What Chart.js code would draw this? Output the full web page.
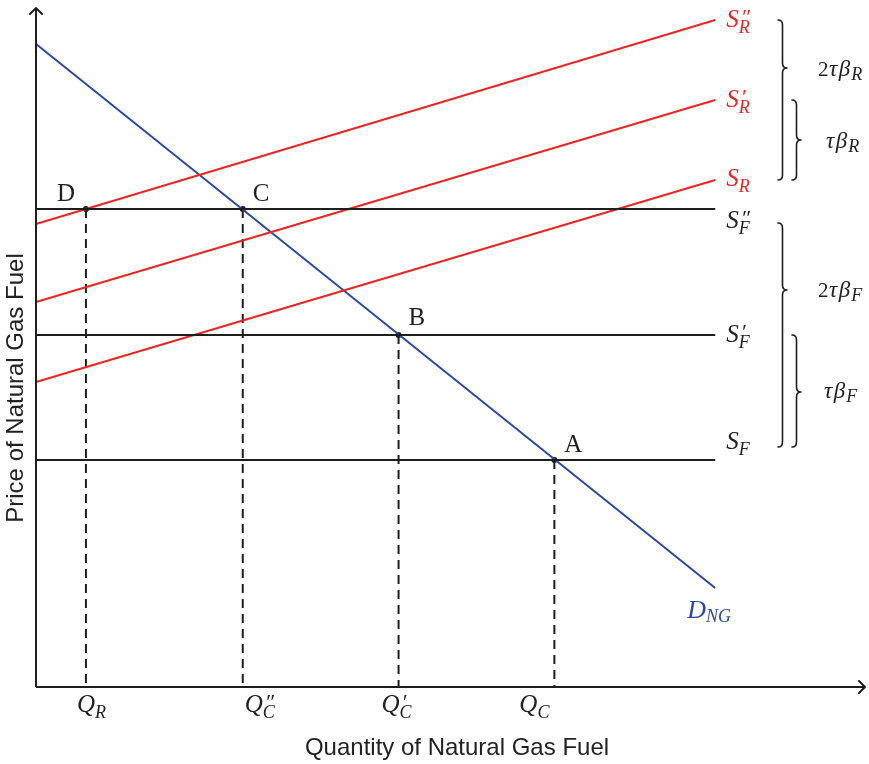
<!DOCTYPE html>
<html>
<head>
<meta charset="utf-8">
<script src="https://cdn.jsdelivr.net/npm/chart.js@4.4.1/dist/chart.umd.min.js"></script>
<style>
  html, body { margin: 0; padding: 0; background: #ffffff; }
  canvas { display: block; }
</style>
</head>
<body>
<canvas id="c" width="869" height="764"></canvas>
<script>
// ---- Data (units: arbitrary quantity / price) ----
const xMax = 83;          // quantity axis extent
const yMax = 67.9;        // price axis extent
const qEnd = 68;          // where the curves end
const curveQ = [0, qEnd];
const demandPrice = [64.3, 9.9];      // D_NG
const supplyR  = [30.5, 50.7];        // S_R
const supplyR1 = [38.5, 58.7];        // S'_R
const supplyR2 = [46.3, 66.7];        // S''_R
const fuelPrices = [22.7, 35.2, 47.8];   // S_F, S'_F, S''_F
const eqNames = ['D', 'C', 'B', 'A'];
const eqQ = [5.0, 20.7, 36.3, 51.9];
const eqP = [47.8, 47.8, 35.2, 22.7];
const qTickLabels = [['Q', '', 'R'], ['Q', '″', 'C'], ['Q', '′', 'C'], ['Q', '', 'C']];
const xTitle = 'Quantity of Natural Gas Fuel';
const yTitle = 'Price of Natural Gas Fuel';

const RED = 'rgb(236,36,36)';
const BLUE = 'rgb(44,72,166)';
const BLACK = '#1e1e1e';
const TEXT = '#222222';

function seg(q, p) { return q.map((v, i) => ({ x: v, y: p[i] })); }
function lineDS(data, color, extra) {
  return Object.assign({ type: 'line', data, borderColor: color, borderWidth: 2, pointRadius: 0,
    fill: false, tension: 0, showLine: true, clip: false }, extra || {});
}

const datasets = [];
// axes
datasets.push(lineDS([{ x: 0, y: 0 }, { x: 0, y: yMax }], BLACK));
datasets.push(lineDS([{ x: 0, y: 0 }, { x: xMax, y: 0 }], BLACK));
// fuel supply (horizontal)
fuelPrices.forEach(p => datasets.push(lineDS(seg(curveQ, [p, p]), BLACK)));
// renewable supply
[supplyR, supplyR1, supplyR2].forEach(s => datasets.push(lineDS(seg(curveQ, s), RED)));
// demand
datasets.push(lineDS(seg(curveQ, demandPrice), BLUE));
// dashed drop lines
eqQ.forEach((q, i) => datasets.push(lineDS([{ x: q, y: eqP[i] }, { x: q, y: 0 }], BLACK, { borderDash: [9, 6] })));
// equilibrium points
datasets.push({ type: 'scatter', data: eqQ.map((q, i) => ({ x: q, y: eqP[i] })), pointRadius: 3,
  pointBackgroundColor: BLACK, pointBorderWidth: 0, clip: false });

function drawParts(ctx, x, y, parts, color) {
  let cx = x;
  ctx.fillStyle = color;
  ctx.textBaseline = 'alphabetic';
  ctx.textAlign = 'left';
  for (const p of parts) {
    ctx.font = (p.it ? 'italic ' : '') + p.s + 'px "Liberation Serif"';
    ctx.fillText(p.t, cx + (p.dx || 0), y + (p.dy || 0));
    if (!p.na) cx += ctx.measureText(p.t).width + (p.k || 0);
  }
}
function sym(base, prime, sub, size, subSize) {
  const parts = [{ t: base, s: size, it: true, k: 0 }];
  if (prime) parts.push({ t: prime, s: size - 3, it: true, na: true, dx: 2, dy: -3 });
  parts.push({ t: sub, s: subSize, it: true, dy: 6 });
  return parts;
}
function brace(ctx, x0, y1, y2, tip, w) {
  const sx = x0 + w / 2, r = 5;
  ctx.beginPath();
  ctx.moveTo(x0, y1);
  ctx.quadraticCurveTo(sx, y1, sx, y1 + r);
  ctx.lineTo(sx, tip - r);
  ctx.quadraticCurveTo(sx, tip, x0 + w, tip);
  ctx.quadraticCurveTo(sx, tip, sx, tip + r);
  ctx.lineTo(sx, y2 - r);
  ctx.quadraticCurveTo(sx, y2, x0, y2);
  ctx.stroke();
}

const annot = {
  id: 'annot',
  afterDatasetsDraw(chart) {
    const ctx = chart.ctx, xs = chart.scales.x, ys = chart.scales.y;
    const X = v => xs.getPixelForValue(v), Y = v => ys.getPixelForValue(v);
    ctx.save();
    // arrowheads
    ctx.strokeStyle = BLACK; ctx.lineWidth = 2; ctx.lineJoin = 'round'; ctx.lineCap = 'round';
    let tx = X(0), ty = Y(yMax);
    ctx.beginPath(); ctx.moveTo(tx - 6, ty + 6); ctx.quadraticCurveTo(tx - 2, ty + 2, tx, ty);
    ctx.quadraticCurveTo(tx + 2, ty + 2, tx + 6, ty + 6); ctx.stroke();
    tx = X(xMax); ty = Y(0);
    ctx.beginPath(); ctx.moveTo(tx - 6, ty - 6); ctx.quadraticCurveTo(tx - 2, ty - 2, tx, ty);
    ctx.quadraticCurveTo(tx - 2, ty + 2, tx - 6, ty + 6); ctx.stroke();

    // point letters
    const letterOff = [[-29, -8], [10, -8], [10, -10], [10, -8]];
    eqNames.forEach((n, i) => {
      ctx.fillStyle = TEXT; ctx.font = '25px "Liberation Serif"'; ctx.textAlign = 'left';
      ctx.fillText(n, X(eqQ[i]) + letterOff[i][0], Y(eqP[i]) + letterOff[i][1]);
    });

    // quantity labels
    const qOff = [-9, 2, -17, -35];
    qTickLabels.forEach((l, i) => {
      drawParts(ctx, X(eqQ[i]) + qOff[i], Y(0) + 25, sym(l[0], l[1], l[2], 25, 18), TEXT);
    });

    // supply labels right
    const ex = X(qEnd) + 11;
    drawParts(ctx, ex, Y(supplyR2[1]) + 7, sym('S', '″', 'R', 25, 18), RED);
    drawParts(ctx, ex, Y(supplyR1[1]) + 7, sym('S', '′', 'R', 25, 18), RED);
    drawParts(ctx, ex, Y(supplyR[1]) + 6, sym('S', '', 'R', 25, 18), RED);
    drawParts(ctx, ex, Y(fuelPrices[2]) + 19, sym('S', '″', 'F', 25, 18), TEXT);
    drawParts(ctx, ex, Y(fuelPrices[1]) + 7, sym('S', '′', 'F', 25, 18), TEXT);
    drawParts(ctx, ex, Y(fuelPrices[0]) - 11, sym('S', '', 'F', 25, 18), TEXT);

    // demand label
    drawParts(ctx, X(qEnd) - 28, Y(demandPrice[1]) + 30,
      [{ t: 'D', s: 26, it: true, k: 0 }, { t: 'NG', s: 18, it: true, dy: 4 }], BLUE);

    // braces
    ctx.strokeStyle = BLACK; ctx.lineWidth = 1.6;
    brace(ctx, 778, Y(supplyR2[1]), Y(supplyR[1]), 68, 9);
    brace(ctx, 792, Y(supplyR1[1]), Y(supplyR[1]), 140, 9);
    brace(ctx, 778, Y(fuelPrices[2]) + 14, Y(fuelPrices[0]) - 13, 290, 9);
    brace(ctx, 792, Y(fuelPrices[1]), Y(fuelPrices[0]) - 13, 392, 9);

    const tb = (two, sub) => {
      const p = [];
      if (two) p.push({ t: '2', s: 21, it: false, k: 0.5 });
      p.push({ t: 'τ', s: 23, it: true, k: 1.5 });
      p.push({ t: 'β', s: 23, it: true, k: 1 });
      p.push({ t: sub, s: 18, it: true, dy: 4 });
      return p;
    };
    drawParts(ctx, 818, 76, tb(true, 'R'), TEXT);
    drawParts(ctx, 826, 148, tb(false, 'R'), TEXT);
    drawParts(ctx, 818, 297, tb(true, 'F'), TEXT);
    drawParts(ctx, 824, 398, tb(false, 'F'), TEXT);

    // axis titles
    ctx.fillStyle = TEXT; ctx.font = '24px "Liberation Sans"';
    ctx.textAlign = 'center'; ctx.textBaseline = 'middle';
    ctx.fillText(xTitle, 457, 748);
    ctx.translate(16, 388); ctx.rotate(-Math.PI / 2);
    ctx.fillText(yTitle, 0, 0);
    ctx.restore();
  }
};

new Chart(document.getElementById('c'), {
  type: 'scatter',
  data: { datasets },
  options: {
    responsive: false,
    animation: false,
    layout: { padding: { left: 36, right: 3, top: 8, bottom: 77 } },
    plugins: { legend: { display: false }, tooltip: { enabled: false }, title: { display: false } },
    scales: {
      x: { type: 'linear', min: 0, max: xMax, display: false },
      y: { type: 'linear', min: 0, max: yMax, display: false }
    }
  },
  plugins: [annot]
});
</script>
</body>
</html>
